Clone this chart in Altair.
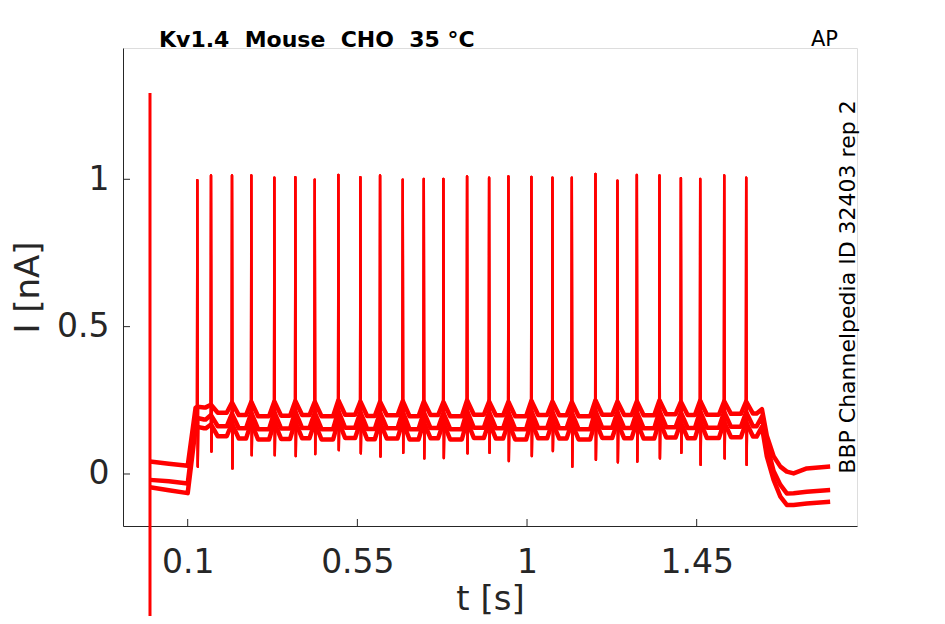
import altair as alt
import pandas as pd

# ---------------- data ----------------
spike_t = [0.1255, 0.1618, 0.2175, 0.2687, 0.3298, 0.3855, 0.4370, 0.4996, 0.5580,
           0.6102, 0.6704, 0.7262, 0.7782, 0.8410, 0.8994, 0.9506, 1.0116, 1.0674,
           1.1188, 1.1815, 1.2398, 1.2913, 1.3513, 1.4081, 1.4593, 1.5230, 1.5813]
spike_peak = [0.997, 1.013, 1.013, 1.013, 1.005, 1.007, 0.999, 1.015, 1.007, 1.013,
              0.999, 1.001, 1.001, 1.010, 1.005, 1.010, 1.008, 1.005, 1.005, 1.018,
              0.995, 1.015, 1.013, 1.004, 1.001, 1.013, 1.005]
spike_dip = [0.025, 0.076, 0.019, 0.064, 0.064, 0.061, 0.068, 0.081, 0.070, 0.059,
             0.072, 0.053, 0.054, 0.070, 0.072, 0.044, 0.061, 0.078, 0.025, 0.048,
             0.040, 0.042, 0.053, 0.072, 0.031, 0.053, 0.031]

# holding period before the step
base_t = [0.0, 0.05, 0.1]
base_A = [0.042, 0.035, 0.028]
base_B = [-0.020, -0.025, -0.032]
base_C = [-0.045, -0.055, -0.065]

# end of the step rise
ramp_t = 0.121
ramp_A, ramp_B, ramp_C = 0.225, 0.185, 0.155

# level at each spike (cusp) and minimum after each spike (trough)
cusp_A = [0.228, 0.235, 0.242, 0.245, 0.246, 0.248, 0.245, 0.250, 0.246, 0.245, 0.248,
          0.246, 0.244, 0.250, 0.246, 0.245, 0.249, 0.246, 0.244, 0.250, 0.246, 0.247,
          0.250, 0.245, 0.249, 0.247, 0.246]
trough_A = [0.226, 0.208, 0.200, 0.196, 0.198, 0.200, 0.196, 0.201, 0.197, 0.199, 0.196,
            0.200, 0.196, 0.201, 0.199, 0.196, 0.200, 0.199, 0.196, 0.201, 0.200, 0.199,
            0.203, 0.200, 0.201, 0.204, 0.205]
cusp_B = [0.190, 0.200, 0.205, 0.208, 0.210, 0.212, 0.208, 0.214, 0.210, 0.209, 0.212,
          0.210, 0.207, 0.214, 0.210, 0.209, 0.213, 0.210, 0.208, 0.214, 0.210, 0.211,
          0.214, 0.209, 0.213, 0.211, 0.210]
trough_B = [0.185, 0.162, 0.155, 0.152, 0.154, 0.156, 0.152, 0.157, 0.153, 0.155, 0.152,
            0.156, 0.152, 0.157, 0.155, 0.152, 0.156, 0.155, 0.152, 0.157, 0.156, 0.155,
            0.159, 0.156, 0.157, 0.160, 0.162]
cusp_C = [0.160, 0.168, 0.172, 0.175, 0.176, 0.178, 0.175, 0.180, 0.176, 0.175, 0.178,
          0.176, 0.174, 0.180, 0.176, 0.175, 0.179, 0.176, 0.174, 0.180, 0.176, 0.177,
          0.180, 0.175, 0.179, 0.177, 0.176]
trough_C = [0.155, 0.128, 0.120, 0.117, 0.119, 0.121, 0.117, 0.122, 0.118, 0.120, 0.117,
            0.121, 0.117, 0.122, 0.120, 0.117, 0.121, 0.120, 0.117, 0.122, 0.121, 0.120,
            0.124, 0.121, 0.122, 0.125, 0.127]

# end of step and tail
end_t = 1.623
end_A, end_B, end_C = 0.220, 0.195, 0.160
decay_t = [1.636, 1.654, 1.672, 1.689, 1.707, 1.742, 1.804]
decay_A = [0.130, 0.060, 0.025, 0.008, 0.002, 0.019, 0.025]
decay_B = [0.100, 0.010, -0.037, -0.066, -0.065, -0.060, -0.054]
decay_C = [0.060, -0.020, -0.077, -0.105, -0.105, -0.100, -0.094]

# capacitive artefact at t = 0
artefact_t = 0.0
artefact_top = 1.293
artefact_bottom = -0.7

x_ticks = [0.1, 0.55, 1, 1.45]
y_ticks = [0, 0.5, 1]

title_text = "Kv1.4\u00a0 Mouse\u00a0 CHO\u00a0 35 °C"
tag_text = "AP"
side_text = "BBP Channelpedia ID 32403 rep 2"

# ---------------- build the tables ----------------
band_rows, spike_rows = [], []
traces = {
    "A": (base_A, ramp_A, cusp_A, trough_A, end_A, decay_A),
    "B": (base_B, ramp_B, cusp_B, trough_B, end_B, decay_B),
    "C": (base_C, ramp_C, cusp_C, trough_C, end_C, decay_C),
}
n = len(spike_t)
for name, (bvals, rv, cusp, trough, ev, dvals) in traces.items():
    pts = list(zip(base_t, bvals))
    pts.append((ramp_t, rv))
    for i in range(n):
        ts = spike_t[i]
        nxt = spike_t[i + 1] if i + 1 < n else end_t
        pts.append((ts, cusp[i]))
        pts.append((ts + 0.018, trough[i]))
        pts.append((nxt - 0.014, trough[i]))
        sp = [(ts - 0.0008, cusp[i]), (ts, spike_peak[i]),
              (ts + 0.0012, spike_dip[i]), (ts + 0.0025, cusp[i])]
        for k, (t, v) in enumerate(sp):
            spike_rows.append({"t": t, "I": v, "id": f"{name}{i}", "k": k})
    pts.append((end_t, ev))
    pts += list(zip(decay_t, dvals))
    for k, (t, v) in enumerate(pts):
        band_rows.append({"t": t, "I": v, "trace": name, "k": k})
band_df = pd.DataFrame(band_rows)
spike_df = pd.DataFrame(spike_rows)

W, H = 734, 478
xscale = alt.Scale(domain=[-0.0716, 1.8752], nice=False, zero=False)
yscale = alt.Scale(domain=[-0.1765, 1.4455], nice=False, zero=False)
ink = "#262626"
red = "#ff0000"
FONT = "DejaVu Sans"

xaxis = alt.Axis(values=x_ticks, format=".2~f", grid=False, ticks=False, tickSize=0,
                 domainColor=ink, domainWidth=1, labelColor=ink, labelFont=FONT,
                 labelFontSize=33, labelPadding=20, title="t [s]", titleFont=FONT,
                 titleFontSize=34, titleFontWeight="normal", titleColor=ink,
                 titleBaseline="alphabetic", titleY=83)
yaxis = alt.Axis(values=y_ticks, format=".1~f", grid=False, ticks=False, tickSize=0,
                 domainColor=ink, domainWidth=1, labelColor=ink, labelFont=FONT,
                 labelFontSize=33, labelPadding=14, title="I [nA]", titleFont=FONT,
                 titleFontSize=34, titleFontWeight="normal", titleColor=ink,
                 titleAngle=270, titleBaseline="alphabetic", titleAlign="center",
                 titleX=-85, titleY=H / 2)

bands = alt.Chart(band_df).mark_line(color=red, strokeWidth=4.5, strokeJoin="round",
                                     interpolate="linear").encode(
    x=alt.X("t:Q", scale=xscale, axis=xaxis),
    y=alt.Y("I:Q", scale=yscale, axis=yaxis),
    detail="trace:N",
    order="k:Q",
)
spikes = alt.Chart(spike_df).mark_line(color=red, strokeWidth=2.4, strokeJoin="round").encode(
    x=alt.X("t:Q", scale=xscale),
    y=alt.Y("I:Q", scale=yscale),
    detail="id:N",
    order="k:Q",
)

art_df = pd.DataFrame({"t": [artefact_t], "top": [artefact_top], "bot": [artefact_bottom]})
artefact = alt.Chart(art_df).mark_rule(color=red, strokeWidth=3, clip=False).encode(
    x=alt.X("t:Q", scale=xscale),
    y=alt.Y("top:Q", scale=yscale),
    y2="bot:Q",
)

xt = alt.Chart(pd.DataFrame({"v": x_ticks})).mark_rule(color=ink, strokeWidth=1).encode(
    x=alt.X("v:Q", scale=xscale), y=alt.value(H), y2=alt.value(H - 7))
yt = alt.Chart(pd.DataFrame({"v": y_ticks})).mark_rule(color=ink, strokeWidth=1).encode(
    y=alt.Y("v:Q", scale=yscale), x=alt.value(0), x2=alt.value(7))

title = alt.Chart(pd.DataFrame({"s": [title_text]})).mark_text(
    align="left", baseline="alphabetic", font=FONT, fontSize=22, fontWeight="bold",
    color="#000000").encode(text="s:N", x=alt.value(36), y=alt.value(-1))
tag = alt.Chart(pd.DataFrame({"s": [tag_text]})).mark_text(
    align="right", baseline="alphabetic", font=FONT, fontSize=21, color="#000000").encode(
    text="s:N", x=alt.value(715), y=alt.value(-2))
side = alt.Chart(pd.DataFrame({"s": [side_text]})).mark_text(
    align="center", baseline="alphabetic", angle=270, font=FONT, fontSize=22,
    color="#000000").encode(text="s:N", x=alt.value(732), y=alt.value(H / 2))

chart = alt.layer(artefact, bands, spikes, xt, yt, title, tag, side).properties(
    width=W, height=H,
    autosize=alt.AutoSizeParams(type="none"),
    padding={"left": 115, "top": 40, "right": 80, "bottom": 90},
).configure_view(stroke=None).configure(background="white")

chart.save("out.html", embed_options={"renderer": "svg", "actions": False})
